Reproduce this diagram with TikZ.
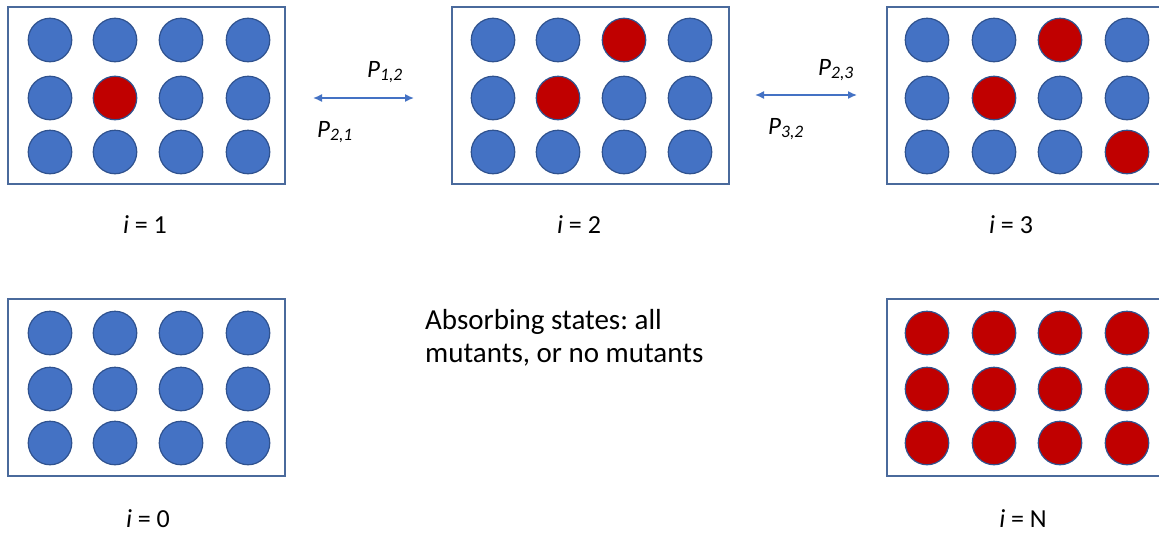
\documentclass[tikz,border=0pt]{standalone}
\usepackage{fontspec}
\setmainfont{Carlito}
\usetikzlibrary{arrows.meta}
\frenchspacing
\definecolor{cblue}{HTML}{4472C4}
\definecolor{cred}{HTML}{C00000}
\definecolor{cedge}{HTML}{2F528F}
\definecolor{boxedge}{HTML}{4A6A9C}
\tikzset{
  bcirc/.style={circle, fill=cblue, draw=cedge, line width=1.2pt, minimum size=43.5pt, inner sep=0pt},
  rcirc/.style={bcirc, fill=cred},
  panel/.style={draw=boxedge, line width=1.5pt, fill=white, minimum width=277pt, minimum height=177pt, inner sep=0pt, anchor=north west},
  lab/.style={font=\fontsize{26}{30}\selectfont, inner sep=0pt, anchor=base},
  plab/.style={font=\fontsize{25}{29}\selectfont\itshape, inner sep=0pt},
  darr/.style={draw=cblue, line width=1.5pt, {Latex[length=9pt,width=8pt]}-{Latex[length=9pt,width=8pt]}},
}
\begin{document}
\begin{tikzpicture}[x=1pt,y=-1pt]
\useasboundingbox (0,0) rectangle (1159,533);
\fill[white] (0,0) rectangle (1159,533);
% panels
\node[panel] (b1) at (7,6) {};
\node[panel] (b2) at (451,6) {};
\node[panel] (b3) at (886,6) {};
\node[panel] (b0) at (7,298) {};
\node[panel] (bN) at (886,298) {};
% panel i=1
\foreach \c [count=\k] in {50,115,181,248}{
  \foreach \r [count=\j] in {40,98,152}{
    \pgfmathtruncatemacro{\isred}{(\k==2 && \j==2) ? 1 : 0}
    \ifnum\isred=1 \node[rcirc] (c1-\k-\j) at (\c,\r) {};
    \else \node[bcirc] (c1-\k-\j) at (\c,\r) {}; \fi
  }
}
% panel i=2
\foreach \c [count=\k] in {493,558,624,690}{
  \foreach \r [count=\j] in {40,98,152}{
    \pgfmathtruncatemacro{\isred}{((\k==2 && \j==2) || (\k==3 && \j==1)) ? 1 : 0}
    \ifnum\isred=1 \node[rcirc] (c2-\k-\j) at (\c,\r) {};
    \else \node[bcirc] (c2-\k-\j) at (\c,\r) {}; \fi
  }
}
% panel i=3
\foreach \c [count=\k] in {927,994,1060,1127}{
  \foreach \r [count=\j] in {40,98,152}{
    \pgfmathtruncatemacro{\isred}{((\k==2 && \j==2) || (\k==3 && \j==1) || (\k==4 && \j==3)) ? 1 : 0}
    \ifnum\isred=1 \node[rcirc] (c3-\k-\j) at (\c,\r) {};
    \else \node[bcirc] (c3-\k-\j) at (\c,\r) {}; \fi
  }
}
% panel i=0
\foreach \c [count=\k] in {50,115,181,248}{
  \foreach \r [count=\j] in {333,389,443}{
    \node[bcirc] (c0-\k-\j) at (\c,\r) {};
  }
}
% panel i=N
\foreach \c [count=\k] in {927,994,1060,1127}{
  \foreach \r [count=\j] in {333,389,443}{
    \node[rcirc] (cN-\k-\j) at (\c,\r) {};
  }
}
% labels
\node[lab] (l1) at (145,233) {\textit{i} = 1};
\node[lab] (l2) at (579,233) {\textit{i} = 2};
\node[lab] (l3) at (1011,233) {\textit{i} = 3};
\node[lab] (l0) at (148,527) {\textit{i} = 0};
\node[lab] (lN) at (1023,527) {\textit{i} = N};
% arrows
\coordinate (a1l) at (313,98);
\coordinate (a1r) at (414,98);
\coordinate (a2l) at (755,95);
\coordinate (a2r) at (857,95);
\draw[darr] (a1l) -- (a1r);
\draw[darr] (a2l) -- (a2r);
\node[plab] (p12) at (385,72) {P\textsubscript{1,2}};
\node[plab] (p21) at (335,132) {P\textsubscript{2,1}};
\node[plab] (p23) at (836,70) {P\textsubscript{2,3}};
\node[plab] (p32) at (786,129) {P\textsubscript{3,2}};
% absorbing text
\node[anchor=north west, align=left, inner sep=0pt, font=\fontsize{29}{33}\selectfont] (abs) at (425,309) {Absorbing states: all\\mutants, or no mutants};
\end{tikzpicture}
\end{document}
